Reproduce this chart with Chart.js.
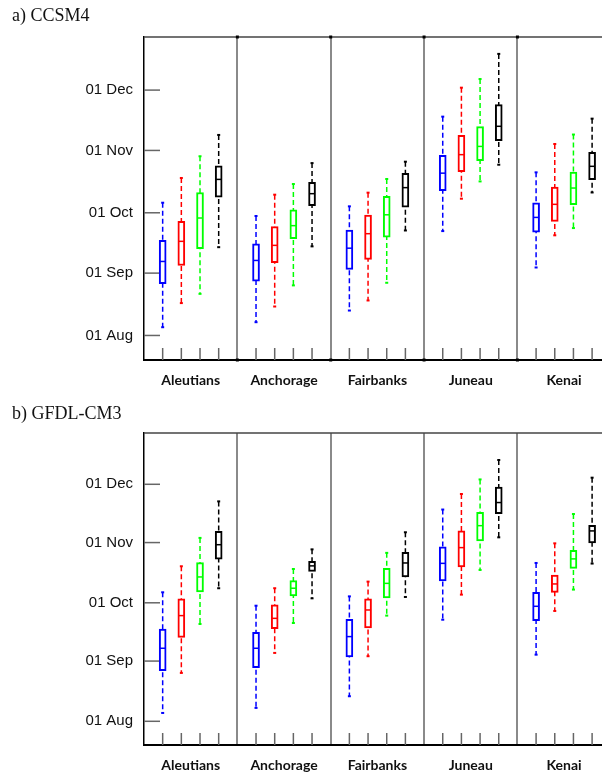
<!DOCTYPE html>
<html>
<head>
<meta charset="utf-8">
<script src="https://cdn.jsdelivr.net/npm/chart.js@4.4.1/dist/chart.umd.min.js"></script>
<style>
  body { margin: 0; background: #fff; }
  .panel { position: relative; width: 602px; }
  .panel canvas { display: block; }
  .panel h2 { position: absolute; left: 12px; margin: 0; font: normal 18px "Liberation Serif", "DejaVu Serif", serif; color: #111; }
</style>
</head>
<body>
<div class="panel" style="height:390px"><h2 style="top:5px">a) CCSM4</h2><canvas id="chartA" width="602" height="390"></canvas></div>
<div class="panel" style="height:386px"><h2 style="top:13px">b) GFDL-CM3</h2><canvas id="chartB" width="602" height="386"></canvas></div>
<script>
// regions along the x axis, four scenarios (boxes) per region
const regions = ["Aleutians", "Anchorage", "Fairbanks", "Juneau", "Kenai"];
const seriesColors = ["#0000ff", "#ff0000", "#00ff00", "#000000"];
// y values are days after 01 Aug
const dateTicks = [0, 31, 61, 92, 122];
const dateLabels = ["01 Aug", "01 Sep", "01 Oct", "01 Nov", "01 Dec"];

// a) CCSM4 - order: region by region, blue, red, green, black
const ccsmLow  = [4.1, 16.1, 20.7, 43.9,   6.6, 14.4, 24.9, 44.3,   12.4, 17.4, 26.2, 52.2,   51.9, 68.0, 76.6, 84.9,    33.8, 49.8, 53.4, 71.1];
const ccsmQ1   = [25.7, 34.8, 43.1, 68.8,  27.0, 36.2, 48.1, 64.5,  32.8, 37.8, 48.9, 63.8,   72.0, 81.4, 86.9, 96.9,    51.4, 56.7, 65.0, 77.5];
const ccsmMed  = [36.8, 46.8, 58.4, 77.6,  37.3, 44.8, 54.6, 70.5,  43.4, 50.6, 60.0, 73.5,   80.7, 89.9, 94.0, 104.0,   58.7, 65.2, 73.3, 84.1];
const ccsmQ3   = [47.3, 56.7, 71.1, 84.4,  45.6, 54.1, 62.5, 76.1,  52.4, 59.9, 69.2, 80.6,   89.6, 99.5, 103.8, 114.8,  66.0, 73.8, 81.2, 91.0];
const ccsmHigh = [66.0, 78.3, 89.1, 99.7,  59.4, 70.0, 75.3, 85.7,  64.2, 71.0, 77.8, 86.4,   108.8, 123.2, 127.5, 140.0, 81.1, 95.2, 99.9, 107.8];

// b) GFDL-CM3
const gfdlLow  = [4.3, 24.9, 50.1, 68.5,   6.9, 35.2, 50.6, 63.3,   12.9, 33.5, 54.4, 64.0,   52.3, 65.2, 77.9, 94.7,    34.3, 56.8, 67.8, 81.2];
const gfdlQ1   = [26.1, 43.2, 66.6, 83.4,  27.6, 47.7, 64.5, 77.2,  33.1, 48.1, 63.5, 74.3,   72.3, 79.5, 92.8, 106.9,   51.8, 66.4, 78.7, 91.8];
const gfdlMed  = [37.6, 54.4, 74.3, 90.9,  37.6, 53.0, 68.5, 80.0,  43.6, 57.3, 71.0, 81.5,   81.3, 89.4, 100.7, 112.6,  59.2, 70.7, 83.6, 98.0];
const gfdlQ3   = [47.5, 63.0, 81.7, 97.8,  45.8, 59.9, 72.4, 82.3,  52.5, 63.0, 78.7, 87.0,   89.8, 98.1, 107.6, 120.6,  66.4, 75.3, 88.0, 100.9];
const gfdlHigh = [66.4, 79.8, 94.4, 113.2, 59.5, 68.5, 78.4, 88.5,  64.3, 71.9, 86.7, 97.3,   109.0, 117.0, 124.5, 134.5, 81.5, 91.6, 106.7, 125.4];

const boxPos = i => 5 * Math.floor(i / 4) + (i % 4) + 1;

function line(ctx, x1, y1, x2, y2) {
    ctx.beginPath();
    ctx.moveTo(x1, y1);
    ctx.lineTo(x2, y2);
    ctx.stroke();
}

// whiskers, medians, inner tick marks and frame top
const boxExtras = {
    id: "boxExtras",
    beforeDatasetsDraw(chart, args, opts) {
        const { ctx, chartArea: a, scales: { x, y } } = chart;
        ctx.save();
        ctx.strokeStyle = "#444";
        ctx.lineWidth = 1.5;
        line(ctx, a.left, a.top, a.right, a.top);

        // inner ticks
        ctx.strokeStyle = "#666";
        ctx.lineWidth = 1.5;
        dateTicks.forEach(v => {
            const py = y.getPixelForValue(v);
            line(ctx, a.left, py, a.left + 16, py);
        });
        opts.low.forEach((v, i) => {
            const px = x.getPixelForValue(boxPos(i));
            line(ctx, px, a.bottom, px, a.bottom - 12);
        });

        // dashed whiskers
        ctx.lineWidth = 1.5;
        ctx.setLineDash([5, 3]);
        opts.low.forEach((v, i) => {
            const px = x.getPixelForValue(boxPos(i));
            ctx.strokeStyle = seriesColors[i % 4];
            line(ctx, px, y.getPixelForValue(opts.high[i]), px, y.getPixelForValue(v));
        });
        ctx.setLineDash([]);
        opts.low.forEach((v, i) => {
            const px = x.getPixelForValue(boxPos(i));
            ctx.fillStyle = seriesColors[i % 4];
            ctx.fillRect(px - 1.5, y.getPixelForValue(opts.high[i]) - 1, 3, 2);
            ctx.fillRect(px - 1.5, y.getPixelForValue(v) - 1, 3, 2);
        });

        // dots at ends of the dividers
        if (opts.dots) {
            ctx.fillStyle = "#000";
            [5, 10, 15, 20].forEach(v => {
                const px = x.getPixelForValue(v);
                ctx.fillRect(px - 1.5, a.top - 1.5, 3, 3);
                ctx.fillRect(px - 1.5, a.bottom - 1.5, 3, 3);
            });
        }
        ctx.restore();
    },
    afterDatasetsDraw(chart, args, opts) {
        const { ctx, scales: { x, y } } = chart;
        ctx.save();
        ctx.lineWidth = 1.5;
        opts.med.forEach((v, i) => {
            const px = x.getPixelForValue(boxPos(i));
            const py = y.getPixelForValue(v);
            ctx.strokeStyle = seriesColors[i % 4];
            line(ctx, px - 3, py, px + 3, py);
        });
        ctx.restore();
    }
};

function makeChart(canvasId, low, q1, med, q3, high, topPad, axisHeight, dots) {
    const datasets = seriesColors.map((color, s) => ({
        data: regions.map((r, ri) => ({ x: 5 * ri + s + 1, y: [q1[ri * 4 + s], q3[ri * 4 + s]] })),
        backgroundColor: "#ffffff",
        borderColor: color,
        borderWidth: 2,
        borderSkipped: false,
        barThickness: 7,
        grouped: false,
    }));

    return new Chart(document.getElementById(canvasId), {
        type: "bar",
        data: { datasets: datasets },
        plugins: [boxExtras],
        options: {
            responsive: false,
            animation: false,
            devicePixelRatio: 1,
            layout: { padding: { top: topPad, right: 0, left: 0, bottom: 0 } },
            plugins: {
                legend: { display: false },
                tooltip: { enabled: false },
                boxExtras: { low: low, med: med, high: high, dots: dots },
            },
            scales: {
                x: {
                    type: "linear",
                    min: 0,
                    max: 24.53,
                    offset: false,
                    afterBuildTicks: scale => {
                        scale.ticks = [2.5, 5, 7.5, 10, 12.5, 15, 17.5, 20, 22.5].map(v => ({ value: v }));
                    },
                    afterFit: scale => { scale.height = axisHeight; },
                    ticks: {
                        autoSkip: false,
                        maxRotation: 0,
                        padding: 12,
                        color: "#111",
                        font: { family: "Lato, 'Open Sans', sans-serif", size: 14, weight: "bold" },
                        callback: v => (v % 5 === 2.5 ? regions[Math.floor(v / 5)] : ""),
                    },
                    grid: {
                        offset: false,
                        drawTicks: false,
                        lineWidth: 2,
                        color: c => (c.tick && c.tick.value % 5 === 0 ? "#8a8a8a" : "rgba(0,0,0,0)"),
                    },
                    border: { color: "#000", width: 2 },
                },
                y: {
                    min: -12.2,
                    max: 148.4,
                    afterBuildTicks: scale => {
                        scale.ticks = dateTicks.map(v => ({ value: v }));
                    },
                    afterFit: scale => { scale.width = 144; },
                    ticks: {
                        padding: 11,
                        color: "#111",
                        font: { family: "'Liberation Sans', Arial, sans-serif", size: 15 },
                        callback: v => dateLabels[dateTicks.indexOf(v)],
                    },
                    grid: { display: false, drawTicks: false },
                    border: { color: "#000", width: 1.5 },
                },
            },
        },
    });
}

makeChart("chartA", ccsmLow, ccsmQ1, ccsmMed, ccsmQ3, ccsmHigh, 37, 30, true);
makeChart("chartB", gfdlLow, gfdlQ1, gfdlMed, gfdlQ3, gfdlHigh, 43, 31, false);
</script>
</body>
</html>
